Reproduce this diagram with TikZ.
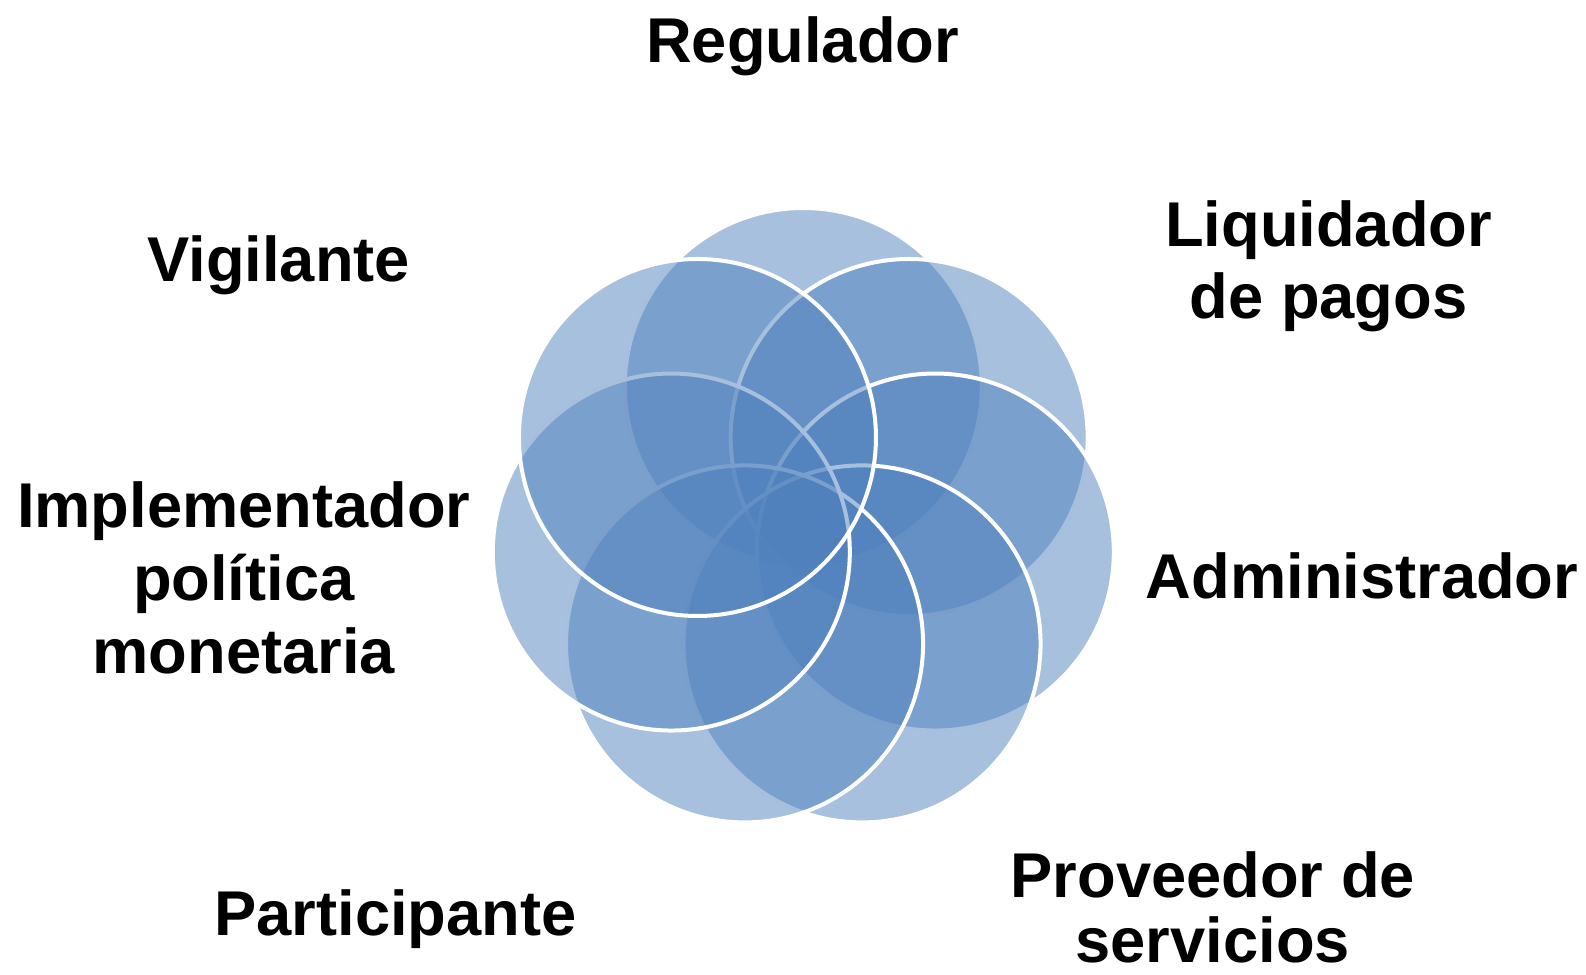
\documentclass[tikz,border=0pt]{standalone}
\usepackage{fontspec}
\setmainfont{Liberation Sans}
\definecolor{accent}{RGB}{79,129,189}
\begin{document}
\begin{tikzpicture}[x=1bp,y=-1bp,
  petal/.style={circle, inner sep=0pt, outer sep=0pt, minimum size=357bp, fill=accent, fill opacity=0.5, draw=white, draw opacity=1, line width=4bp},
  lbl/.style={font=\bfseries\fontsize{63.5}{73}\selectfont, align=center, anchor=base, inner sep=0pt}]
\useasboundingbox (0,0) rectangle (1586,974);
\foreach \k/\nm in {0/cReg,1/cLiq,2/cAdm,3/cPro,4/cPar,5/cImp,6/cVig} {
  \node[petal] (\nm) at ({803.3+135.4*cos(90-\k*360/7)},{521.9-135.4*sin(90-\k*360/7)}) {};
}
\node[lbl] (tReg) at (802.6,62.7) {Regulador};
\node[lbl] (tLiq) at (1328.6,318.8) {Liquidador\\de pagos};
\node[lbl] (tAdm) at (1362,598.8) {Administrador};
\node[lbl, font=\bfseries\fontsize{63.5}{65}\selectfont] (tPro) at (1212.8,962) {Proveedor de\\servicios};
\node[lbl] (tPar) at (395.5,935.6) {Participante};
\node[lbl] (tImp) at (243.8,673) {Implementador\\política\\monetaria};
\node[lbl] (tVig) at (278.7,281) {Vigilante};
\end{tikzpicture}
\end{document}
